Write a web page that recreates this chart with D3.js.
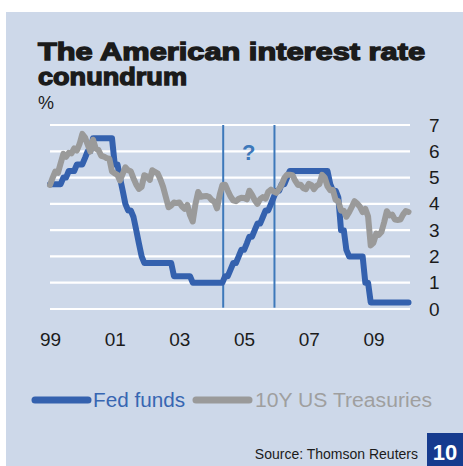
<!DOCTYPE html>
<html lang="en">
<head>
<meta charset="utf-8">
<title>Interest rate conundrum</title>
<script src="https://d3js.org/d3.v7.min.js"></script>
<style>
  body { margin: 0; background: #fff; }
  svg { display: block; font-family: "Liberation Sans", Arial, sans-serif; }
</style>
</head>
<body>
<div id="chart"></div>
<script>
// monthly values from Jan 1999 to Feb 2010
const startMonth = "1999-01-01";
const fedFunds = [
  4.75, 4.75, 4.75, 4.75, 4.75, 5.0, 5.0, 5.25, 5.25, 5.25, 5.5, 5.5,
  5.5, 5.75, 6.0, 6.0, 6.5, 6.5, 6.5, 6.5, 6.5, 6.5, 6.5, 6.5,
  5.5, 5.5, 5.0, 4.5, 4.0, 3.75, 3.75, 3.5, 3.0, 2.5, 2.0, 1.75,
  1.75, 1.75, 1.75, 1.75, 1.75, 1.75, 1.75, 1.75, 1.75, 1.75, 1.25, 1.25,
  1.25, 1.25, 1.25, 1.25, 1.25, 1.0, 1.0, 1.0, 1.0, 1.0, 1.0, 1.0,
  1.0, 1.0, 1.0, 1.0, 1.0, 1.25, 1.25, 1.5, 1.75, 1.75, 2.0, 2.25,
  2.25, 2.5, 2.75, 2.75, 3.0, 3.25, 3.25, 3.5, 3.75, 3.75, 4.0, 4.25,
  4.5, 4.5, 4.75, 4.75, 5.0, 5.25, 5.25, 5.25, 5.25, 5.25, 5.25, 5.25,
  5.25, 5.25, 5.25, 5.25, 5.25, 5.25, 5.25, 5.25, 4.75, 4.5, 4.5, 4.25,
  3.0, 3.0, 2.25, 2.0, 2.0, 2.0, 2.0, 2.0, 2.0, 1.0, 1.0, 0.25,
  0.25, 0.25, 0.25, 0.25, 0.25, 0.25, 0.25, 0.25, 0.25, 0.25, 0.25, 0.25,
  0.25, 0.25
];
const treasuries10y = [
  4.72, 5.00, 5.23, 5.18, 5.54, 5.90, 5.79, 5.94, 5.92, 6.11, 6.03, 6.28,
  6.66, 6.52, 6.26, 5.99, 6.44, 6.10, 6.05, 5.83, 5.80, 5.74, 5.72, 5.24,
  5.16, 5.10, 4.89, 5.14, 5.39, 5.28, 5.24, 4.97, 4.73, 4.57, 4.65, 5.09,
  5.04, 4.91, 5.28, 5.21, 5.16, 4.93, 4.65, 4.26, 3.87, 3.94, 4.05, 4.03,
  4.05, 3.90, 3.81, 3.96, 3.57, 3.33, 3.98, 4.45, 4.27, 4.29, 4.30, 4.27,
  4.15, 4.08, 3.83, 4.35, 4.72, 4.73, 4.50, 4.28, 4.13, 4.10, 4.19, 4.23,
  4.22, 4.17, 4.50, 4.34, 4.14, 4.00, 4.18, 4.26, 4.20, 4.46, 4.54, 4.47,
  4.42, 4.57, 4.72, 4.99, 5.11, 5.11, 5.09, 4.88, 4.72, 4.73, 4.60, 4.56,
  4.76, 4.72, 4.56, 4.69, 4.75, 5.10, 5.00, 4.67, 4.52, 4.53, 4.15, 4.10,
  3.74, 3.74, 3.51, 3.68, 3.88, 4.10, 4.01, 3.89, 3.69, 3.81, 3.53, 2.42,
  2.52, 2.87, 2.82, 2.93, 3.29, 3.72, 3.56, 3.59, 3.40, 3.39, 3.40, 3.59,
  3.73, 3.69
];
const yTicks = [0, 1, 2, 3, 4, 5, 6, 7];
const xTickYears = [1999, 2001, 2003, 2005, 2007, 2009];
const markerDates = ["2004-05-10", "2005-12-10"];
const seriesNames = ["Fed funds", "10Y US Treasuries"];

const width = 463, height = 466;
const svg = d3.select("#chart").append("svg")
  .attr("width", width).attr("height", height);

// panel background
svg.append("rect").attr("x", 6).attr("y", 12)
  .attr("width", width - 6).attr("height", height - 12)
  .attr("fill", "#cdd8e9");

// title
svg.append("text").attr("x", 38).attr("y", 60)
  .attr("font-size", 24).attr("font-weight", "bold").attr("fill", "#1b1b1b")
  .attr("textLength", 387).attr("lengthAdjust", "spacingAndGlyphs")
  .style("stroke", "#1b1b1b").style("stroke-width", 1.3)
  .text("The American interest rate");
svg.append("text").attr("x", 38).attr("y", 85)
  .attr("font-size", 24).attr("font-weight", "bold").attr("fill", "#1b1b1b")
  .attr("textLength", 149).attr("lengthAdjust", "spacingAndGlyphs")
  .style("stroke", "#1b1b1b").style("stroke-width", 1.3)
  .text("conundrum");
svg.append("text").attr("x", 38).attr("y", 109)
  .attr("font-size", 18).attr("fill", "#1b1b1b").text("%");

const parse = d3.timeParse("%Y-%m-%d");
const start = parse(startMonth);
const dates = fedFunds.map((_, i) => d3.timeMonth.offset(start, i));

const x = d3.scaleTime()
  .domain([new Date(1999, 0, 1), new Date(2010, 2, 1)])
  .range([50, 411]);
const y = d3.scaleLinear().domain([0, 7]).range([309, 125]);

// gridlines
svg.append("g").selectAll("line").data(yTicks).enter().append("line")
  .attr("x1", 50).attr("x2", 410)
  .attr("y1", d => y(d)).attr("y2", d => y(d))
  .attr("stroke", "#fff").attr("stroke-width", 2.2);

// right axis labels
const yAxis = d3.axisRight(y).tickValues(yTicks).tickFormat(d3.format("d"))
  .tickSize(0).tickPadding(0);
const yg = svg.append("g").attr("transform", "translate(429,0)").call(yAxis);
yg.select(".domain").remove();
yg.selectAll("text").attr("font-size", 19).attr("fill", "#1b1b1b")
  .attr("font-family", "Liberation Sans, Arial, sans-serif");

// bottom axis labels
const xAxis = d3.axisBottom(x)
  .tickValues(xTickYears.map(yr => new Date(yr, 0, 1)))
  .tickFormat(d3.timeFormat("%y")).tickSize(0).tickPadding(0);
const xg = svg.append("g").attr("transform", "translate(0,332)").call(xAxis);
xg.select(".domain").remove();
xg.selectAll("text").attr("font-size", 19).attr("fill", "#1b1b1b")
  .attr("font-family", "Liberation Sans, Arial, sans-serif");

// marker lines
svg.append("g").selectAll("line").data(markerDates).enter().append("line")
  .attr("x1", d => x(parse(d))).attr("x2", d => x(parse(d)))
  .attr("y1", y(7)).attr("y2", y(0.05))
  .attr("stroke", "#3d78ba").attr("stroke-width", 2);
svg.append("text")
  .attr("x", (x(parse(markerDates[0])) + x(parse(markerDates[1]))) / 2)
  .attr("y", 160).attr("text-anchor", "middle")
  .attr("font-size", 22).attr("font-weight", "bold").attr("fill", "#3d78ba")
  .text("?");

const line = d3.line().x((d, i) => x(dates[i])).y(d => y(d)).curve(d3.curveLinear);

svg.append("path").datum(fedFunds).attr("d", line)
  .attr("fill", "none").attr("stroke", "#3461ae").attr("stroke-width", 6)
  .attr("stroke-linejoin", "round").attr("stroke-linecap", "round");
svg.append("path").datum(treasuries10y).attr("d", line)
  .attr("fill", "none").attr("stroke", "#9a9a9a").attr("stroke-width", 6)
  .attr("stroke-linejoin", "round").attr("stroke-linecap", "round");

// legend
const legend = [
  { name: seriesNames[0], color: "#3461ae", text: "#3766b2", x1: 35, x2: 88, tx: 93, len: 92 },
  { name: seriesNames[1], color: "#9a9a9a", text: "#9f9f9f", x1: 196, x2: 249, tx: 255, len: 177 }
];
const lg = svg.append("g").selectAll("g").data(legend).enter().append("g");
lg.append("line")
  .attr("x1", d => d.x1).attr("x2", d => d.x2).attr("y1", 400).attr("y2", 400)
  .attr("stroke", d => d.color).attr("stroke-width", 7).attr("stroke-linecap", "round");
lg.append("text").attr("x", d => d.tx).attr("y", 407)
  .attr("font-size", 20).attr("fill", d => d.text)
  .attr("textLength", d => d.len).attr("lengthAdjust", "spacingAndGlyphs")
  .text(d => d.name);

// source and page number
svg.append("text").attr("x", 418).attr("y", 459).attr("text-anchor", "end")
  .attr("font-size", 14).attr("fill", "#1b1b1b").text("Source: Thomson Reuters");
svg.append("rect").attr("x", 427).attr("y", 433).attr("width", 36).attr("height", 33)
  .attr("fill", "#163b8e");
svg.append("text").attr("x", 445).attr("y", 460).attr("text-anchor", "middle")
  .attr("font-size", 22).attr("font-weight", "bold").attr("fill", "#fff").text("10");
</script>
</body>
</html>
